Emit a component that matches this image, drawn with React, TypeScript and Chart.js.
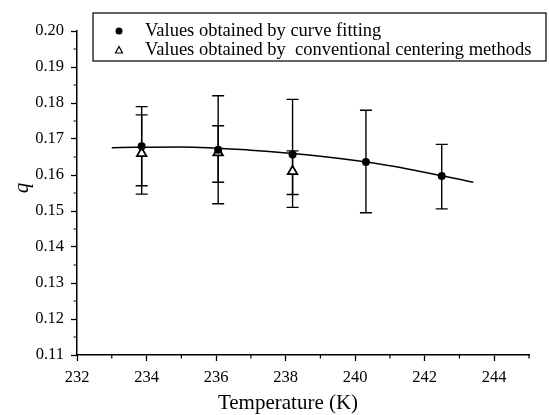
import React, { useEffect, useRef } from 'react';
import { Chart, registerables } from 'chart.js';

Chart.register(...registerables);

// ---- data ----
const fitTemps = [233.86, 236.06, 238.2, 240.31, 242.49];
const fitQ = [0.168, 0.167, 0.1657, 0.1636, 0.1597];
const fitLow = [0.157, 0.152, 0.151, 0.1495, 0.1506];
const fitHigh = [0.179, 0.182, 0.181, 0.178, 0.1685];

const convTemps = [233.86, 236.06, 238.2];
const convQ = [0.166, 0.1662, 0.161];
const convLow = [0.1547, 0.158, 0.1546];
const convHigh = [0.1767, 0.1737, 0.1667];

const curveTemps = [233, 235, 237, 239, 241, 243.4];
const curveQ = [0.1676, 0.1678, 0.1669, 0.1652, 0.1626, 0.158];

const xMajorTicks = [232, 234, 236, 238, 240, 242, 244];
const xMinorTicks = [233, 235, 237, 239, 241, 243, 245];
const yMajorTicks = [0.11, 0.12, 0.13, 0.14, 0.15, 0.16, 0.17, 0.18, 0.19, 0.2];
const yMinorTicks = [0.115, 0.125, 0.135, 0.145, 0.155, 0.165, 0.175, 0.185, 0.195];

const fitLabel = 'Values obtained by curve fitting';
const convLabel = 'Values obtained by  conventional centering methods';
const xTitle = 'Temperature (K)';
const yTitle = 'q';

const FONT = "'Liberation Serif', 'Times New Roman', serif";

const errorBarPlugin = {
  id: 'errorBars',
  beforeDatasetsDraw(chart: any) {
    const ctx = chart.ctx;
    const xs = chart.scales.x;
    const ys = chart.scales.y;
    ctx.save();
    ctx.strokeStyle = '#000';
    ctx.lineWidth = 1.4;
    chart.data.datasets.forEach((ds: any) => {
      if (!ds.errLow) return;
      ds.data.forEach((p: any, i: number) => {
        const px = xs.getPixelForValue(p.x);
        const lo = ys.getPixelForValue(ds.errLow[i]);
        const hi = ys.getPixelForValue(ds.errHigh[i]);
        ctx.beginPath();
        ctx.moveTo(px, lo);
        ctx.lineTo(px, hi);
        ctx.moveTo(px - 6, lo);
        ctx.lineTo(px + 6, lo);
        ctx.moveTo(px - 6, hi);
        ctx.lineTo(px + 6, hi);
        ctx.stroke();
      });
    });
    ctx.restore();
  },
};

const decorPlugin = {
  id: 'decor',
  afterDraw(chart: any) {
    const ctx = chart.ctx;
    const xs = chart.scales.x;
    const ys = chart.scales.y;
    const area = chart.chartArea;
    ctx.save();
    ctx.strokeStyle = '#000';
    ctx.lineWidth = 1.2;
    // minor ticks
    ctx.beginPath();
    xMinorTicks.forEach((v) => {
      const px = xs.getPixelForValue(v);
      ctx.moveTo(px, area.bottom);
      ctx.lineTo(px, area.bottom + 3.5);
    });
    yMinorTicks.forEach((v) => {
      const py = ys.getPixelForValue(v);
      ctx.moveTo(area.left, py);
      ctx.lineTo(area.left - 3.5, py);
    });
    ctx.stroke();

    // axis titles
    ctx.fillStyle = '#000';
    ctx.font = `21px ${FONT}`;
    ctx.textAlign = 'center';
    ctx.textBaseline = 'middle';
    ctx.fillText(xTitle, 288, 403);
    ctx.save();
    ctx.translate(22, 188);
    ctx.rotate(-Math.PI / 2);
    ctx.font = `italic 21px ${FONT}`;
    ctx.fillText(yTitle, 0, 0);
    ctx.restore();

    // legend box
    const bx = 93, by = 13, bw = 453, bh = 48;
    ctx.fillStyle = '#fff';
    ctx.fillRect(bx, by, bw, bh);
    ctx.lineWidth = 1.2;
    ctx.strokeRect(bx, by, bw, bh);
    ctx.fillStyle = '#000';
    ctx.font = `18.5px ${FONT}`;
    ctx.textAlign = 'left';
    const labels = chart.data.datasets.filter((d: any) => d.legendRow !== undefined);
    labels.forEach((d: any) => {
      const ry = d.legendRow === 0 ? 31 : 50;
      ctx.fillText(d.label, 145, ry);
      ctx.beginPath();
      if (d.pointStyle === 'triangle') {
        ctx.moveTo(119, ry - 3.5);
        ctx.lineTo(122.5, ry + 3);
        ctx.lineTo(115.5, ry + 3);
        ctx.closePath();
        ctx.lineWidth = 1.2;
        ctx.stroke();
      } else {
        ctx.arc(119, ry, 3.5, 0, Math.PI * 2);
        ctx.fill();
      }
    });
    ctx.restore();
  },
};

export default function App() {
  const ref = useRef<HTMLCanvasElement>(null);

  useEffect(() => {
    if (!ref.current) return;
    const chart = new Chart(ref.current, {
      type: 'scatter',
      data: {
        datasets: [
          {
            label: 'curve',
            type: 'line',
            data: curveTemps.map((x, i) => ({ x, y: curveQ[i] })),
            borderColor: '#000',
            borderWidth: 1.5,
            pointRadius: 0,
            cubicInterpolationMode: 'monotone',
            fill: false,
            order: 3,
          } as any,
          {
            label: convLabel,
            data: convTemps.map((x, i) => ({ x, y: convQ[i] })),
            errLow: convLow,
            errHigh: convHigh,
            legendRow: 1,
            pointStyle: 'triangle',
            pointRadius: 5.5,
            backgroundColor: '#fff',
            borderColor: '#000',
            borderWidth: 1.8,
            order: 2,
          } as any,
          {
            label: fitLabel,
            data: fitTemps.map((x, i) => ({ x, y: fitQ[i] })),
            errLow: fitLow,
            errHigh: fitHigh,
            legendRow: 0,
            pointStyle: 'circle',
            pointRadius: 4,
            backgroundColor: '#000',
            borderColor: '#000',
            borderWidth: 0,
            order: 1,
          } as any,
        ],
      },
      options: {
        responsive: false,
        animation: false,
        events: [],
        layout: { padding: { top: 31, right: 20, left: 0, bottom: 0 } },
        plugins: {
          legend: { display: false },
          tooltip: { enabled: false },
        },
        scales: {
          x: {
            type: 'linear',
            min: 232,
            max: 245,
            afterFit: (s: any) => { s.height = 60; },
            afterBuildTicks: (s: any) => { s.ticks = xMajorTicks.map((v) => ({ value: v })); },
            border: { color: '#000', width: 1.5 },
            grid: { drawOnChartArea: false, color: '#000', tickLength: 6, tickWidth: 1.3 },
            ticks: {
              color: '#000',
              padding: 7,
              font: { family: FONT, size: 16.5 },
              callback: (v: any) => String(v),
            },
          },
          y: {
            type: 'linear',
            min: 0.11,
            max: 0.2,
            afterFit: (s: any) => { s.width = 77; },
            afterBuildTicks: (s: any) => { s.ticks = yMajorTicks.map((v) => ({ value: v })); },
            border: { color: '#000', width: 1.5 },
            grid: { drawOnChartArea: false, color: '#000', tickLength: 6, tickWidth: 1.3 },
            ticks: {
              color: '#000',
              padding: 7,
              font: { family: FONT, size: 16.5 },
              callback: (v: any) => Number(v).toFixed(2),
            },
          },
        },
      } as any,
      plugins: [errorBarPlugin, decorPlugin],
    });
    return () => chart.destroy();
  }, []);

  return (
    <div style={{ position: 'fixed', left: 0, top: 0, width: 549, height: 415, background: '#fff' }}>
      <canvas ref={ref} width={549} height={415} style={{ display: 'block' }} />
    </div>
  );
}
